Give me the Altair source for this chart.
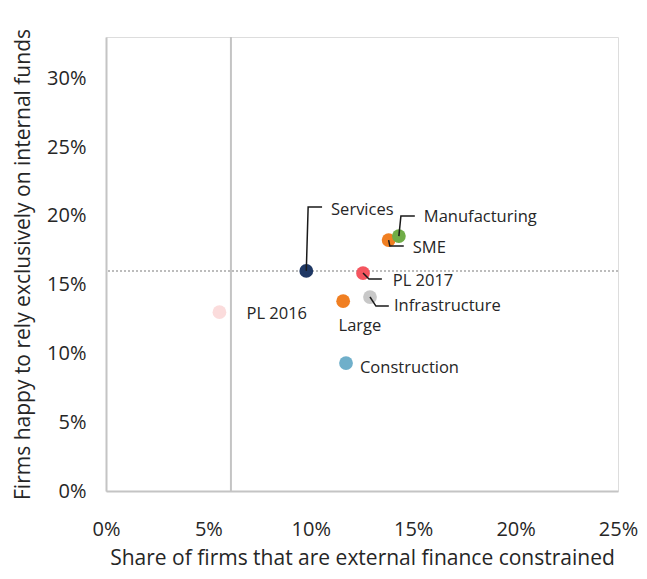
import altair as alt
import pandas as pd

# ---- data ----
labels = ["PL 2016", "Services", "Large", "Construction", "PL 2017",
          "Infrastructure", "SME", "Manufacturing"]
x_vals = [0.0554, 0.0978, 0.1158, 0.1172, 0.1255, 0.1289, 0.1380, 0.1430]
y_vals = [0.130, 0.160, 0.138, 0.093, 0.1584, 0.141, 0.1824, 0.1853]
colors = ["#fbdcdc", "#1f3864", "#f07f22", "#6fafca", "#f4555f",
          "#c8c8c8", "#f07f22", "#70ad47"]

# label positions (data units) and alignment
label_x = [0.0686, 0.1099, 0.1240, 0.1240, 0.1400, 0.1406, 0.1498, 0.1552]
label_y = [0.1286, 0.2042, 0.1199, 0.0894, 0.1526, 0.1344, 0.1766, 0.1991]
label_align = ["left", "left", "center", "left", "left", "left", "left", "left"]

# leader lines (elbow) for some labels: knee and end points
leader_labels = ["Services", "Manufacturing", "SME", "PL 2017", "Infrastructure"]
knee_x = [0.0987, 0.1440, 0.1386, 0.1284, 0.1318]
knee_y = [0.2064, 0.1999, 0.1780, 0.1541, 0.1344]
end_x = [0.1055, 0.1508, 0.1454, 0.1347, 0.1381]
end_y = [0.2064, 0.1999, 0.1780, 0.1541, 0.1344]

v_ref = 0.061   # vertical reference line
h_ref = 0.160   # horizontal dotted reference line

x_ticks = [0, 0.05, 0.10, 0.15, 0.20, 0.25]
y_ticks = [0, 0.05, 0.10, 0.15, 0.20, 0.25, 0.30]

FONT = "Open Sans"
TXT = "#262626"

pts = pd.DataFrame({"label": labels, "x": x_vals, "y": y_vals})
txt = pd.DataFrame({"label": labels, "lx": label_x, "ly": label_y, "al": label_align})

rows = []
for i, lab in enumerate(leader_labels):
    j = labels.index(lab)
    rows.append({"label": lab, "o": 0, "x": x_vals[j], "y": y_vals[j]})
    rows.append({"label": lab, "o": 1, "x": knee_x[i], "y": knee_y[i]})
    rows.append({"label": lab, "o": 2, "x": end_x[i], "y": end_y[i]})
lead = pd.DataFrame(rows)

xs = alt.Scale(domain=[0, 0.25], nice=False, zero=False)
ys = alt.Scale(domain=[0, 0.33], nice=False, zero=False)

x_axis = alt.Axis(values=x_ticks, format=".0%", grid=False, ticks=False,
                  domainColor="#c4c4c4", domainWidth=2, labelFlush=False,
                  labelFontSize=20, labelColor=TXT, labelPadding=28,
                  labelFont=FONT, title="Share of firms that are external finance constrained",
                  titleFont=FONT, titleFontSize=21, titleFontWeight="normal",
                  titleColor=TXT, titlePadding=8)
y_axis = alt.Axis(values=y_ticks, format=".0%", grid=False, ticks=False,
                  domainColor="#c4c4c4", domainWidth=2, labelFlush=False,
                  labelFontSize=20, labelColor=TXT, labelPadding=20,
                  labelFont=FONT, title="Firms happy to rely exclusively on internal funds",
                  titleFont=FONT, titleFontSize=21, titleFontWeight="normal",
                  titleColor=TXT, titlePadding=13)

vline = alt.Chart(pd.DataFrame({"x": [v_ref]})).mark_rule(
    color="#c4c4c4", strokeWidth=2).encode(
    x=alt.X("x:Q", scale=xs, axis=x_axis))

hline = alt.Chart(pd.DataFrame({"y": [h_ref]})).mark_rule(
    color="#a6a6a6", strokeWidth=1.5, strokeDash=[2, 2]).encode(
    y=alt.Y("y:Q", scale=ys, axis=y_axis))

points = alt.Chart(pts).mark_circle(size=190, opacity=1).encode(
    x=alt.X("x:Q", scale=xs, axis=x_axis),
    y=alt.Y("y:Q", scale=ys, axis=y_axis),
    color=alt.Color("label:N", scale=alt.Scale(domain=labels, range=colors), legend=None))

leaders = alt.Chart(lead).mark_line(color="#1a1a1a", strokeWidth=1.5).encode(
    x=alt.X("x:Q", scale=xs),
    y=alt.Y("y:Q", scale=ys),
    detail="label:N",
    order="o:Q")

text_left = alt.Chart(txt).transform_filter(alt.datum.al == "left").mark_text(
    align="left", baseline="middle", font=FONT, fontSize=16.5, color=TXT).encode(
    x=alt.X("lx:Q", scale=xs), y=alt.Y("ly:Q", scale=ys), text="label:N")
text_center = alt.Chart(txt).transform_filter(alt.datum.al == "center").mark_text(
    align="center", baseline="middle", font=FONT, fontSize=16.5, color=TXT).encode(
    x=alt.X("lx:Q", scale=xs), y=alt.Y("ly:Q", scale=ys), text="label:N")

chart = alt.layer(vline, hline, points, leaders, text_left, text_center).properties(
    width=512, height=454,
    autosize=alt.AutoSizeParams(type="none"),
    padding={"left": 98, "top": 29, "right": 21, "bottom": 80},
).configure_view(stroke=None).configure(background="white")

chart.save("out.html", embed_options={"renderer": "svg", "actions": False})
